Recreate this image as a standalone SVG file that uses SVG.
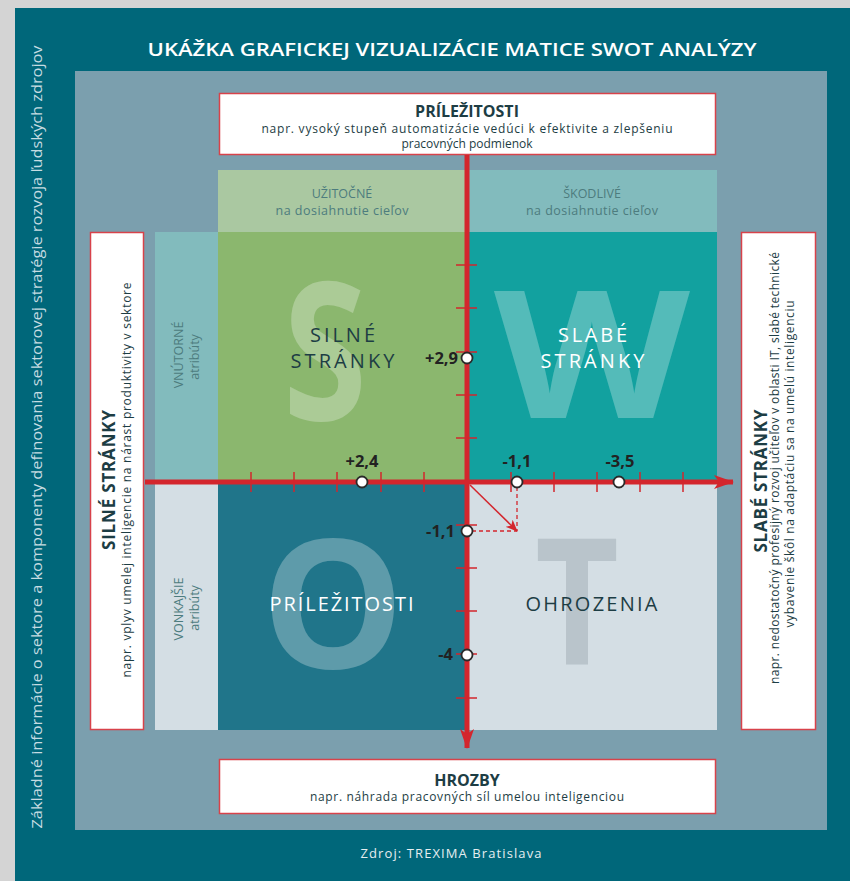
<svg xmlns="http://www.w3.org/2000/svg" width="850" height="881" viewBox="0 0 850 881">
<defs>
<style>
.f{font-family:"Open Sans","Liberation Sans",sans-serif}
.box{fill:#fff;stroke:#d8424a;stroke-width:1.5}
.h{font-weight:700;fill:#1d3d44}
.sub{fill:#1d3d44;font-size:12px}
.hd{fill:#4d7c7e;font-size:12.5px}
.q{font-size:20px;letter-spacing:1px}
.big{font-weight:700;fill:#fff;fill-opacity:0.28}
.tick{stroke:#d3262d;stroke-width:1.5}
.val{font-weight:700;font-size:16.5px;fill:#222}
.pt{fill:#fff;stroke:#2a2a2a;stroke-width:1.8}
.dash{stroke:#d3262d;stroke-width:1.3;stroke-dasharray:4 3;fill:none}
</style>
<marker id="ah" viewBox="0 0 20 14" refX="19" refY="7" markerWidth="20" markerHeight="14" markerUnits="userSpaceOnUse" orient="auto">
<path d="M0,0 L20,7 L0,14 L5,7 Z" fill="#d3262d"/>
</marker>
<marker id="ah2" viewBox="0 0 12 10" refX="11" refY="5" markerWidth="12" markerHeight="10" markerUnits="userSpaceOnUse" orient="auto">
<path d="M0,0 L12,5 L0,10 L3,5 Z" fill="#d3262d"/>
</marker>
</defs>
<rect x="0" y="0" width="850" height="881" fill="#d4d4d4"/>
<rect x="15" y="8" width="835" height="873" fill="#00677a"/>
<rect x="75" y="71" width="752" height="759" fill="#7b9fae"/>
<text class="f" x="452" y="56" text-anchor="middle" font-size="17.5" font-weight="600" fill="#fff" textLength="609" lengthAdjust="spacingAndGlyphs">UKÁŽKA GRAFICKEJ VIZUALIZÁCIE MATICE SWOT ANALÝZY</text>
<text class="f" transform="translate(42,437) rotate(-90)" text-anchor="middle" font-size="14" fill="#c6dce2" textLength="783" lengthAdjust="spacingAndGlyphs">Základné informácie o sektore a komponenty definovania sektorovej stratégie rozvoja ľudských zdrojov</text>
<g id="header-s"><rect x="218" y="170" width="248" height="62" fill="#aac8a1"/><text class="f hd" x="342" y="198" text-anchor="middle">UŽITOČNÉ</text><text class="f hd" x="342" y="215" text-anchor="middle" textLength="133">na dosiahnutie cieľov</text></g>
<g id="header-w"><rect x="466" y="170" width="251" height="62" fill="#82bbbd"/><text class="f hd" x="592" y="198" text-anchor="middle">ŠKODLIVÉ</text><text class="f hd" x="592" y="215" text-anchor="middle" textLength="132">na dosiahnutie cieľov</text></g>
<g id="row-internal"><rect x="155" y="232" width="63" height="250" fill="#82bbbd"/><text class="f hd" transform="translate(183,355) rotate(-90)" text-anchor="middle" font-size="12">VNÚTORNÉ</text><text class="f hd" transform="translate(199,357) rotate(-90)" text-anchor="middle" font-size="12">atribúty</text></g>
<g id="row-external"><rect x="155" y="482" width="63" height="248" fill="#d4dee4"/><text class="f hd" transform="translate(183,609) rotate(-90)" text-anchor="middle" font-size="12">VONKAJŠIE</text><text class="f hd" transform="translate(199,608) rotate(-90)" text-anchor="middle" font-size="12">atribúty</text></g>
<g id="quad-s"><rect x="218" y="232" width="248" height="250" fill="#8bb76e"/><text class="f big" x="325" y="420" text-anchor="middle" font-size="192" textLength="84" lengthAdjust="spacingAndGlyphs">S</text><text class="f q" x="343" y="342" text-anchor="middle" fill="#1d3d44" textLength="66">SILNÉ</text><text class="f q" x="343" y="368" text-anchor="middle" fill="#1d3d44" textLength="105">STRÁNKY</text></g>
<g id="quad-w"><rect x="466" y="232" width="251" height="250" fill="#12a19f"/><text class="f big" x="592" y="418" text-anchor="middle" font-size="178" textLength="196" lengthAdjust="spacingAndGlyphs">W</text><text class="f q" x="593" y="342" text-anchor="middle" fill="#fff" textLength="70">SLABÉ</text><text class="f q" x="593" y="368" text-anchor="middle" fill="#fff" textLength="105">STRÁNKY</text></g>
<g id="quad-o"><rect x="218" y="482" width="248" height="248" fill="#20758a"/><text class="f big" x="333" y="668" text-anchor="middle" font-size="180">O</text><text class="f q" x="342" y="611" text-anchor="middle" fill="#fff" textLength="145">PRÍLEŽITOSTI</text></g>
<g id="quad-t"><rect x="466" y="482" width="251" height="248" fill="#d4dee4"/><text class="f" x="577" y="665" text-anchor="middle" font-size="176" font-weight="700" fill="#b9c4cb" textLength="84" lengthAdjust="spacingAndGlyphs">T</text><text class="f q" x="592" y="611" text-anchor="middle" fill="#1d3d44" textLength="133">OHROZENIA</text></g>
<g id="box-top"><rect class="box" x="219.5" y="93.5" width="496" height="61"/><text class="f h" x="467" y="117" text-anchor="middle" font-size="16">PRÍLEŽITOSTI</text><text class="f sub" x="467" y="133" text-anchor="middle" textLength="411">napr. vysoký stupeň automatizácie vedúci k efektivite a zlepšeniu</text><text class="f sub" x="467" y="148" text-anchor="middle">pracovných podmienok</text></g>
<g id="box-bottom"><rect class="box" x="219.5" y="759.5" width="496" height="54"/><text class="f h" x="467" y="786" text-anchor="middle" font-size="16">HROZBY</text><text class="f sub" x="467" y="801" text-anchor="middle" textLength="314">napr. náhrada pracovných síl umelou inteligenciou</text></g>
<g id="box-left"><rect class="box" x="90.5" y="232.5" width="53" height="497"/><text class="f h" transform="translate(115,480) rotate(-90)" text-anchor="middle" font-size="17" textLength="140">SILNÉ STRÁNKY</text><text class="f sub" transform="translate(131,480) rotate(-90)" text-anchor="middle" textLength="395">napr. vplyv umelej inteligencie na nárast produktivity v sektore</text></g>
<g id="box-right"><rect class="box" x="741.5" y="232.5" width="74" height="497"/><text class="f h" transform="translate(767,481) rotate(-90)" text-anchor="middle" font-size="17" textLength="143">SLABÉ STRÁNKY</text><text class="f sub" transform="translate(779,468) rotate(-90)" text-anchor="middle" textLength="432">napr. nedostatočný profesijný rozvoj učiteľov v oblasti IT, slabé technické</text><text class="f sub" transform="translate(794,464) rotate(-90)" text-anchor="middle" textLength="327">vybavenie škôl na adaptáciu sa na umelú inteligenciu</text></g>
<g id="connectors">
<line x1="145" y1="482" x2="733" y2="482" stroke="#d3262d" stroke-width="5" marker-end="url(#ah)"/>
<line x1="467" y1="155" x2="467" y2="748" stroke="#d3262d" stroke-width="5" marker-end="url(#ah)"/>
<g class="tick">
<line x1="251" y1="472" x2="251" y2="492"/><line x1="294" y1="472" x2="294" y2="492"/><line x1="337" y1="472" x2="337" y2="492"/><line x1="381" y1="472" x2="381" y2="492"/><line x1="424" y1="472" x2="424" y2="492"/>
<line x1="511" y1="472" x2="511" y2="492"/><line x1="554" y1="472" x2="554" y2="492"/><line x1="597" y1="472" x2="597" y2="492"/><line x1="640" y1="472" x2="640" y2="492"/><line x1="683" y1="472" x2="683" y2="492"/>
<line x1="456" y1="265" x2="477" y2="265"/><line x1="456" y1="308" x2="477" y2="308"/><line x1="456" y1="352" x2="477" y2="352"/><line x1="456" y1="395" x2="477" y2="395"/><line x1="456" y1="438" x2="477" y2="438"/>
<line x1="456" y1="525" x2="477" y2="525"/><line x1="456" y1="568" x2="477" y2="568"/><line x1="456" y1="611" x2="477" y2="611"/><line x1="456" y1="654" x2="477" y2="654"/><line x1="456" y1="698" x2="477" y2="698"/>
</g>
<line x1="470" y1="485" x2="517" y2="531" stroke="#d3262d" stroke-width="1.5" marker-end="url(#ah2)"/>
<path class="dash" d="M517,487 V531 M472,531 H517"/>
</g>
<g id="points">
<circle class="pt" cx="467" cy="358" r="5.5"/><text class="f val" x="458" y="364" text-anchor="end">+2,9</text>
<circle class="pt" cx="362" cy="482" r="5.5"/><text class="f val" x="362" y="467" text-anchor="middle">+2,4</text>
<circle class="pt" cx="517" cy="482" r="5.5"/><text class="f val" x="517" y="467" text-anchor="middle">-1,1</text>
<circle class="pt" cx="619" cy="482" r="5.5"/><text class="f val" x="620" y="467" text-anchor="middle">-3,5</text>
<circle class="pt" cx="467" cy="531" r="5.5"/><text class="f val" x="455" y="537" text-anchor="end">-1,1</text>
<circle class="pt" cx="467" cy="655" r="5.5"/><text class="f val" x="453" y="660" text-anchor="end">-4</text>
</g>
<text class="f" x="451" y="858" text-anchor="middle" font-size="13" fill="#e6eef0" textLength="181">Zdroj: TREXIMA Bratislava</text>
</svg>
